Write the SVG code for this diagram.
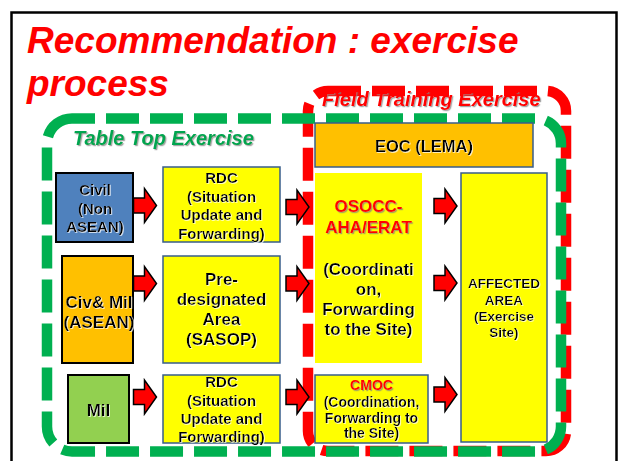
<svg xmlns="http://www.w3.org/2000/svg" width="621" height="461" viewBox="0 0 621 461">
<style>
text{font-family:"Liberation Sans",Arial,sans-serif;font-weight:bold;text-anchor:middle;fill:#000}
.title{font-size:37px;font-style:italic;fill:#FF0000;text-anchor:start}
.lbl{font-size:20px;font-style:italic;text-anchor:start}
.red{fill:#FF0000}
.src{stroke:#000;stroke-width:2}
.tgt{fill:#FFFF00;stroke:#385D8A;stroke-width:1.5}
.arr{fill:#FF0000;stroke:#000;stroke-width:1.5;stroke-linejoin:miter}
.f15{font-size:15px}.f17{font-size:17px}.f14{font-size:14px}.f13{font-size:13.5px}
</style>
<defs>
<path id="arrow" d="M0,-7.5H11V-17L23,0L11,17V7.5H0Z"/>
<filter id="sh" x="-5%" y="-20%" width="110%" height="140%"><feDropShadow dx="1.2" dy="1.2" stdDeviation="0.6" flood-color="#808080" flood-opacity="0.7"/></filter>
<filter id="ws" x="-5%" y="-20%" width="110%" height="140%"><feDropShadow dx="0.8" dy="0.8" stdDeviation="0.3" flood-color="#ffffff" flood-opacity="0.9"/></filter>
</defs>
<rect x="0" y="0" width="621" height="461" fill="#fff"/>
<rect x="11.5" y="12.5" width="605" height="470" fill="none" stroke="#000" stroke-width="2.5"/>
<text class="title" x="27" y="53">Recommendation : exercise</text>
<text class="title" x="27" y="96">process</text>

<g id="field-training">
<rect x="308" y="91" width="258" height="360" rx="20" fill="none" stroke="#FF0000" stroke-width="10.5" stroke-dasharray="33 11"/>
<text class="lbl red" x="322" y="106" filter="url(#sh)">Field Training Exercise</text>
</g>
<g id="table-top">
<rect x="47" y="118.5" width="514" height="333" rx="25" fill="none" stroke="#00B050" stroke-width="10.5" stroke-dasharray="33 11" stroke-dashoffset="10"/>
<text class="lbl" x="73" y="145" fill="#00A550" style="fill:#00A550" filter="url(#sh)">Table Top Exercise</text>
</g>

<g id="civil">
<rect class="src" x="56" y="173" width="77" height="69" fill="#4F81BD"/>
<g class="f15" filter="url(#ws)"><text x="95" y="195">Civil</text><text x="95" y="213.5">(Non</text><text x="95" y="232">ASEAN)</text></g>
</g>
<g id="civmil">
<rect class="src" x="62" y="256" width="71" height="107" fill="#FFC000"/>
<g class="f17" filter="url(#ws)"><text x="99" y="308">Civ&amp; Mil</text><text x="99" y="328">(ASEAN)</text></g>
</g>
<g id="mil">
<rect class="src" x="68" y="375" width="61" height="68" fill="#92D050"/>
<text class="f17" x="98.5" y="416" filter="url(#ws)">Mil</text>
</g>
<g id="rdc1">
<rect class="tgt" x="163" y="167" width="117" height="75"/>
<g class="f15" filter="url(#ws)"><text x="221.5" y="183">RDC</text><text x="221.5" y="201.5">(Situation</text><text x="221.5" y="220">Update and</text><text x="221.5" y="238.5">Forwarding)</text></g>
</g>
<g id="predesignated">
<rect class="tgt" x="163" y="256" width="117" height="107"/>
<g class="f17" filter="url(#ws)"><text x="221.5" y="285">Pre-</text><text x="221.5" y="305">designated</text><text x="221.5" y="325">Area</text><text x="221.5" y="345">(SASOP)</text></g>
</g>
<g id="rdc2">
<rect class="tgt" x="163" y="375" width="117" height="68"/>
<g class="f15" filter="url(#ws)"><text x="221.5" y="387">RDC</text><text x="221.5" y="405.5">(Situation</text><text x="221.5" y="424">Update and</text><text x="221.5" y="442">Forwarding)</text></g>
</g>
<g id="eoc">
<rect x="315" y="123" width="218" height="44" fill="#FFC000" stroke="#385D8A" stroke-width="1.5"/>
<text x="424" y="152" font-size="16.5" filter="url(#ws)">EOC (LEMA)</text>
</g>
<g id="osocc">
<rect x="315" y="173" width="107" height="190" fill="#FFFF00"/>
<g class="f17"><text class="red" x="368.5" y="212" filter="url(#sh)">OSOCC-</text><text class="red" x="368.5" y="233" filter="url(#sh)">AHA/ERAT</text>
<g filter="url(#ws)"><text x="368.5" y="275">(Coordinati</text><text x="368.5" y="295">on,</text><text x="368.5" y="315">Forwarding</text><text x="368.5" y="335">to the Site)</text></g></g>
</g>
<g id="cmoc">
<rect class="tgt" x="315" y="375" width="113" height="68"/>
<g class="f14"><text class="red" x="371.5" y="390" filter="url(#sh)">CMOC</text>
<g filter="url(#ws)"><text x="371.5" y="407">(Coordination,</text><text x="371.5" y="422.5">Forwarding to</text><text x="371.5" y="438">the Site)</text></g></g>
</g>
<g id="affected">
<rect class="tgt" x="461" y="173" width="86" height="269"/>
<g class="f13" filter="url(#ws)"><text x="504" y="288">AFFECTED</text><text x="504" y="305">AREA</text><text x="504" y="321">(Exercise</text><text x="504" y="337">Site)</text></g>
</g>

<g id="connectors">
<use href="#arrow" class="arr" transform="translate(133.5,205.5)"/>
<use href="#arrow" class="arr" transform="translate(286,207)"/>
<use href="#arrow" class="arr" transform="translate(133.5,283.5)"/>
<use href="#arrow" class="arr" transform="translate(286,283.5)"/>
<use href="#arrow" class="arr" transform="translate(133.5,397)"/>
<use href="#arrow" class="arr" transform="translate(286,397)"/>
<use href="#arrow" class="arr" transform="translate(434,206)"/>
<use href="#arrow" class="arr" transform="translate(434,283)"/>
<use href="#arrow" class="arr" transform="translate(434,394.5)"/>
</g>
</svg>
